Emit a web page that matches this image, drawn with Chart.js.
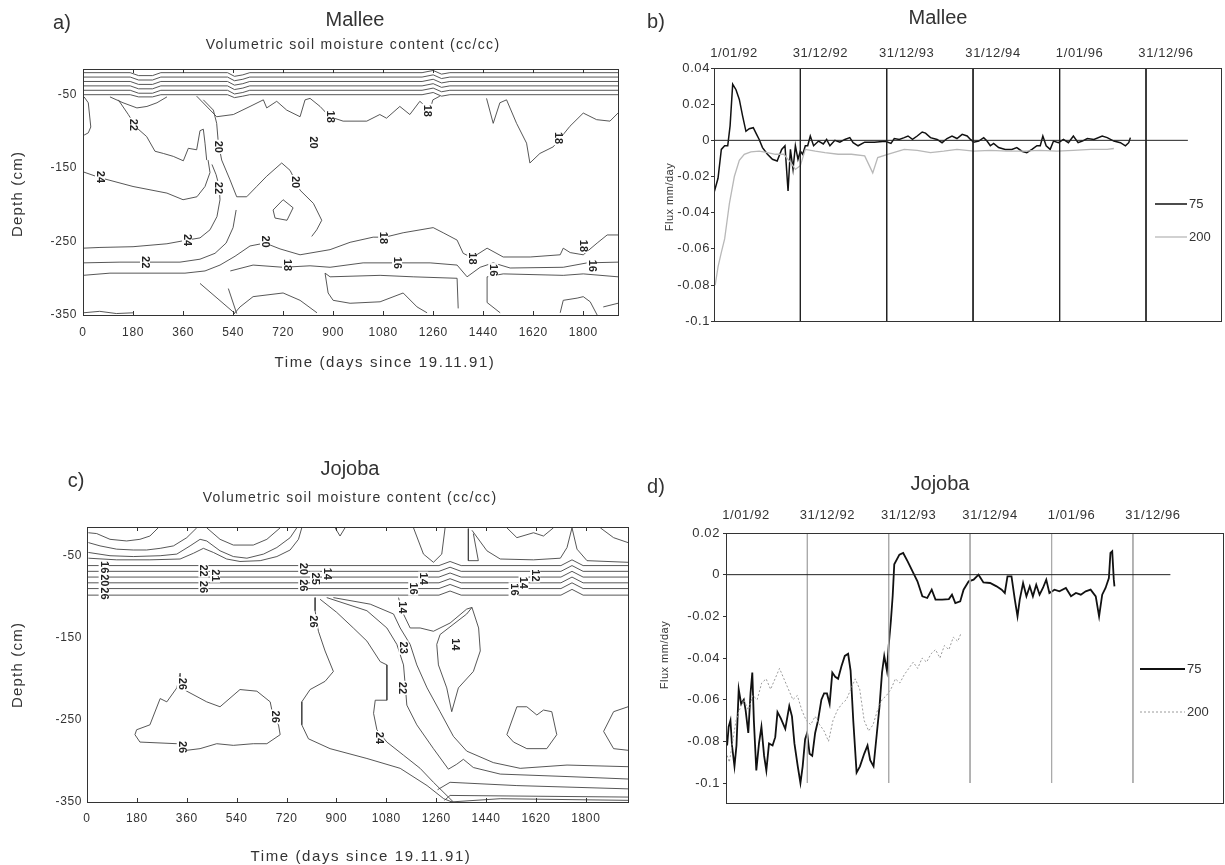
<!DOCTYPE html>
<html>
<head>
<meta charset="utf-8">
<script src="https://cdn.jsdelivr.net/npm/chart.js@4.4.1/dist/chart.umd.min.js"></script>
<style>
  html, body { margin: 0; padding: 0; background: #fff; }
  body { width: 1225px; height: 865px; position: relative; overflow: hidden; }
  canvas { position: absolute; }
</style>
</head>
<body>
<canvas id="mallee-contour" width="640" height="400" style="left:0;top:0"></canvas>
<canvas id="mallee-flux" width="585" height="330" style="left:640px;top:0"></canvas>
<canvas id="jojoba-contour" width="645" height="415" style="left:0;top:450px"></canvas>
<canvas id="jojoba-flux" width="585" height="415" style="left:640px;top:450px"></canvas>
<script>
/* global Chart */

// ---- flux charts (b, d): days since 1/01/92, flux mm/day ----
const dateTickDays = [0, 365, 730, 1095, 1461, 1826];
const dateTickLabels = ['1/01/92', '31/12/92', '31/12/93', '31/12/94', '1/01/96', '31/12/96'];
const yearMarkDays = [365, 730, 1095, 1461, 1826];
const fluxTicksMallee = [0.04, 0.02, 0, -0.02, -0.04, -0.06, -0.08, -0.1];
const fluxTicksJojoba = [0.02, 0, -0.02, -0.04, -0.06, -0.08, -0.1];

const malleeFlux75 = [[0,-0.029],[17,-0.021],[31,-0.005],[45,-0.003],[58,-0.003],[68,0.008],[79,0.031],[93,0.028],[107,0.0226],[121,0.0134],[135,0.005],[149,0.0064],[166,0.007],[180,0.0033],[191,0.0005],[205,-0.004],[226,-0.0077],[247,-0.0105],[267,-0.0114],[286,-0.005],[300,-0.003],[313,-0.028],[323,-0.005],[334,-0.016],[344,-0.003],[355,-0.0105],[365,-0.006],[375,-0.0077],[386,-0.003],[396,-0.003],[407,0.0024],[421,-0.003],[442,-0.0004],[462,-0.002],[476,0.0005],[490,-0.003],[511,0],[532,-0.001],[553,0.0005],[574,0.0015],[588,-0.0013],[609,-0.003],[637,-0.001],[678,-0.001],[724,-0.0005],[748,-0.0017],[762,0.001],[783,0.0005],[804,0.0015],[820,0.0024],[839,0.0005],[859,0.0024],[880,0.0046],[894,0.004],[915,0.0015],[943,0.0005],[964,-0.0013],[985,0.001],[1006,0.0024],[1027,0.001],[1049,0.0033],[1070,0.0024],[1084,0.0005],[1098,-0.001],[1119,-0.0004],[1140,0.0015],[1154,-0.0004],[1168,-0.003],[1182,-0.0017],[1203,-0.004],[1231,-0.005],[1259,-0.005],[1280,-0.004],[1301,-0.006],[1322,-0.0068],[1344,-0.005],[1365,-0.003],[1379,-0.003],[1390,0.0024],[1404,-0.003],[1421,-0.005],[1435,-0.0004],[1456,-0.0013],[1477,0.0005],[1498,-0.0013],[1519,0.0024],[1539,-0.0013],[1557,-0.0004],[1578,0.001],[1606,0.0005],[1641,0.0024],[1662,0.0015],[1690,-0.0004],[1718,-0.0013],[1739,-0.003],[1753,-0.0013],[1760,0.0015]];
const malleeFlux200 = [[5,-0.08],[17,-0.07],[31,-0.062],[45,-0.0545],[65,-0.035],[86,-0.02],[107,-0.011],[128,-0.0077],[156,-0.0064],[191,-0.006],[226,-0.0068],[260,-0.0077],[295,-0.0077],[323,-0.012],[344,-0.016],[365,-0.014],[386,-0.005],[428,-0.006],[469,-0.0068],[525,-0.0077],[581,-0.0077],[637,-0.0086],[671,-0.018],[692,-0.0095],[734,-0.0077],[804,-0.005],[859,-0.0055],[915,-0.0068],[971,-0.006],[1027,-0.005],[1098,-0.006],[1168,-0.0055],[1238,-0.006],[1308,-0.006],[1379,-0.0055],[1449,-0.006],[1519,-0.0055],[1592,-0.005],[1662,-0.005],[1690,-0.0045]];
const malleeZeroEnd = 2003;

const jojobaFlux75 = [[5,-0.082],[12,-0.073],[20,-0.07],[27,-0.082],[38,-0.092],[47,-0.082],[57,-0.055],[68,-0.062],[80,-0.06],[88,-0.065],[100,-0.076],[110,-0.057],[118,-0.047],[125,-0.07],[136,-0.094],[148,-0.081],[159,-0.073],[171,-0.087],[181,-0.094],[193,-0.081],[209,-0.082],[221,-0.078],[231,-0.066],[246,-0.069],[266,-0.074],[284,-0.063],[296,-0.068],[307,-0.081],[322,-0.092],[334,-0.1],[344,-0.092],[355,-0.079],[364,-0.076],[375,-0.086],[387,-0.087],[400,-0.076],[413,-0.07],[428,-0.06],[440,-0.057],[453,-0.057],[465,-0.062],[477,-0.047],[490,-0.049],[503,-0.05],[518,-0.044],[533,-0.039],[548,-0.038],[559,-0.046],[571,-0.07],[586,-0.095],[601,-0.092],[620,-0.086],[635,-0.082],[647,-0.089],[662,-0.092],[677,-0.076],[689,-0.063],[700,-0.047],[710,-0.039],[722,-0.046],[730,-0.034],[740,-0.022],[748,-0.01],[755,0.005],[778,0.0096],[795,0.0104],[815,0.0064],[837,0.0016],[859,-0.0032],[881,-0.0104],[903,-0.0112],[923,-0.0072],[940,-0.012],[970,-0.012],[1000,-0.0117],[1014,-0.0096],[1029,-0.0136],[1051,-0.0128],[1066,-0.0072],[1089,-0.0032],[1111,-0.0024],[1133,0],[1155,-0.0037],[1185,-0.004],[1214,-0.0056],[1237,-0.0072],[1251,-0.0088],[1263,-0.0008],[1281,-0.0008],[1296,-0.012],[1308,-0.02],[1318,-0.012],[1333,-0.004],[1348,-0.0104],[1363,-0.0056],[1377,-0.0104],[1392,-0.0048],[1407,-0.0096],[1422,-0.0064],[1437,-0.0024],[1451,-0.0088],[1474,-0.0072],[1496,-0.008],[1525,-0.0064],[1548,-0.0104],[1570,-0.0088],[1592,-0.0096],[1614,-0.008],[1636,-0.0072],[1659,-0.0104],[1674,-0.02],[1688,-0.0096],[1703,-0.0064],[1718,-0.0016],[1725,0.0104],[1733,0.0112],[1740,-0.0024],[1743,-0.0056]];
const jojobaFlux200 = [[0,-0.085],[15,-0.09],[30,-0.08],[45,-0.07],[60,-0.065],[80,-0.06],[100,-0.065],[120,-0.058],[140,-0.06],[160,-0.052],[180,-0.05],[200,-0.055],[220,-0.05],[240,-0.045],[260,-0.05],[280,-0.055],[300,-0.06],[320,-0.058],[340,-0.065],[360,-0.07],[380,-0.072],[400,-0.068],[420,-0.072],[440,-0.075],[460,-0.08],[480,-0.07],[500,-0.065],[520,-0.062],[540,-0.06],[560,-0.055],[580,-0.05],[600,-0.055],[620,-0.07],[640,-0.075],[660,-0.072],[680,-0.065],[700,-0.06],[720,-0.058],[740,-0.055],[760,-0.05],[780,-0.052],[800,-0.048],[820,-0.045],[840,-0.042],[860,-0.045],[880,-0.04],[900,-0.042],[920,-0.038],[940,-0.036],[960,-0.04],[980,-0.034],[1000,-0.036],[1020,-0.03],[1040,-0.032],[1055,-0.028]];
const jojobaZeroEnd = 1994;

// ---- contour charts (a, c): [day since 19.11.91, depth cm] ----
const dayTicks = [0, 180, 360, 540, 720, 900, 1080, 1260, 1440, 1620, 1800];
const depthTicks = [-50, -150, -250, -350];

const malleeBand1 = [[0,-20],[170,-20],[200,-24],[250,-24],[280,-20],[520,-20],[545,-25],[575,-23],[600,-20],[1220,-20],[1260,-17],[1290,-22],[1320,-20],[1925,-20]];
const malleeBand2 = [[0,-26],[170,-26],[200,-30],[250,-30],[280,-26],[520,-26],[545,-31],[575,-29],[600,-26],[1220,-26],[1260,-23],[1290,-28],[1320,-26],[1925,-26]];
const malleeBand3 = [[0,-32],[170,-32],[200,-36],[250,-36],[280,-32],[520,-32],[545,-37],[575,-35],[600,-32],[1220,-32],[1260,-29],[1290,-34],[1320,-32],[1925,-32]];
const malleeBand4 = [[0,-38],[170,-38],[200,-42],[250,-42],[280,-38],[520,-38],[545,-43],[575,-41],[600,-38],[1220,-38],[1260,-35],[1290,-40],[1320,-38],[1925,-38]];
const malleeBand5 = [[0,-44],[170,-44],[200,-48],[250,-48],[280,-44],[520,-44],[545,-49],[575,-47],[600,-44],[1220,-44],[1260,-41],[1290,-46],[1320,-44],[1925,-44]];
const malleeBand6 = [[0,-50],[170,-50],[200,-53],[250,-53],[280,-50],[520,-50],[545,-54],[575,-52],[600,-50],[1220,-50],[1260,-47],[1290,-52],[1320,-50],[1925,-50]];
const malleeLoop = [[4,-53],[19,-61],[28,-94],[19,-102],[4,-105]];
const malleeU = [[97,-53],[144,-61],[194,-68],[230,-66],[266,-61],[302,-53]];
const mallee22 = [[127,-57],[163,-77],[193,-95],[229,-107],[259,-127],[289,-130],[325,-134],[361,-140],[379,-123],[409,-125],[421,-99],[433,-97],[439,-116],[445,-139]];
const mallee24 = [[0,-155],[61,-163],[180,-175],[302,-184],[360,-193],[410,-189],[439,-175],[457,-156],[450,-139]];
const mallee20 = [[433,-57],[469,-71],[481,-89],[487,-116],[499,-139],[529,-166],[553,-189],[589,-189],[625,-175],[661,-161],[715,-143],[745,-153],[781,-180],[829,-198],[859,-221],[841,-234],[823,-243]];
const mallee18 = [[409,-52],[481,-80],[541,-77],[601,-66],[649,-57],[661,-68],[697,-59],[733,-71],[781,-80],[799,-57],[817,-55],[853,-66],[888,-80],[936,-86],[1021,-86],[1068,-77],[1092,-82],[1140,-66],[1176,-77],[1212,-59],[1248,-71],[1259,-57],[1284,-52]];
const mallee18b = [[1452,-55],[1476,-89],[1500,-61],[1524,-57],[1560,-89],[1596,-116],[1608,-143],[1644,-130],[1692,-121],[1752,-93],[1800,-75],[1848,-84],[1896,-86],[1925,-75]];
const mallee24low = [[0,-259],[61,-258],[180,-257],[302,-253],[374,-248],[421,-245],[457,-234],[482,-216],[493,-193],[490,-175],[479,-159],[464,-145]];
const mallee22low = [[0,-279],[133,-278],[241,-278],[349,-278],[421,-274],[475,-266],[515,-252],[540,-231],[551,-207]];
const mallee18low = [[0,-296],[97,-293],[241,-293],[367,-293],[439,-290],[493,-282],[547,-270],[601,-256],[655,-252],[709,-260],[781,-268],[889,-261],[961,-251],[1044,-244],[1087,-244],[1152,-238],[1260,-231],[1296,-238],[1346,-248],[1368,-266],[1400,-272],[1454,-259],[1512,-271],[1609,-271],[1717,-268],[1728,-259],[1753,-265],[1800,-268],[1850,-252],[1886,-241],[1925,-241]];
const mallee16 = [[530,-290],[612,-282],[720,-285],[817,-283],[889,-285],[1008,-279],[1130,-279],[1249,-279],[1346,-282],[1382,-298],[1429,-285],[1476,-279],[1537,-286],[1728,-285],[1814,-279],[1925,-278]];
const malleeLens = [[1350,-341],[1346,-300],[1188,-298],[1069,-296],[889,-298],[871,-293],[882,-320],[900,-330],[961,-334],[1069,-332],[1152,-320],[1202,-339],[1238,-347]];
const malleeDiamond = [[684,-207],[720,-193],[756,-204],[734,-221],[691,-218],[684,-207]];
const malleeHump = [[540,-350],[565,-339],[612,-325],[720,-320],[781,-330],[842,-347]];
const malleeDiag1 = [[421,-307],[547,-348]];
const malleeDiag2 = [[523,-314],[553,-348]];
const malleeBase = [[0,-347],[60,-345],[120,-348],[180,-347]];
const malleeRight1 = [[1501,-347],[1454,-333],[1454,-298],[1512,-294],[1728,-296],[1800,-294],[1925,-298]];
const malleeRight2 = [[1717,-347],[1728,-330],[1778,-327],[1800,-325],[1825,-332],[1850,-350]];
const malleeRight3 = [[1872,-339],[1925,-334]];
const malleeLabels = [[180,-91,'22'],[486,-121,'20'],[486,-177,'22'],[61,-162,'24'],[374,-248,'24'],[223,-278,'22'],[655,-250,'20'],[734,-282,'18'],[763,-169,'20'],[828,-115,'20'],[889,-80,'18'],[1238,-72,'18'],[1080,-245,'18'],[1130,-279,'16'],[1400,-273,'18'],[1476,-289,'16'],[1710,-109,'18'],[1800,-256,'18'],[1830,-283,'16']];

const jojobaBand1 = [[0,-62],[1270,-62],[1310,-57],[1350,-62],[1710,-62],[1750,-55],[1790,-62],[1952,-62]];
const jojobaBand2 = [[0,-69],[1270,-69],[1310,-64],[1350,-69],[1710,-69],[1750,-62],[1790,-69],[1952,-69]];
const jojobaBand3 = [[0,-76],[1270,-76],[1310,-71],[1350,-76],[1710,-76],[1750,-69],[1790,-76],[1952,-76]];
const jojobaBand4 = [[0,-83],[1270,-83],[1310,-78],[1350,-83],[1710,-83],[1750,-76],[1790,-83],[1952,-83]];
const jojobaBand5 = [[0,-90],[1270,-90],[1310,-85],[1350,-90],[1710,-90],[1750,-83],[1790,-90],[1952,-90]];
const jojobaBand6 = [[0,-98],[1270,-98],[1310,-93],[1350,-98],[1710,-98],[1750,-91],[1790,-98],[1952,-98]];
const jojobaU1 = [[5,-22],[35,-23],[83,-30],[143,-32],[191,-30],[227,-26],[257,-16]];
const jojobaU2 = [[5,-34],[47,-38],[107,-42],[167,-43],[215,-43],[264,-41],[312,-38],[360,-28],[396,-16]];
const jojobaU3 = [[5,-46],[83,-50],[167,-51],[264,-50],[324,-48],[372,-38],[408,-30],[432,-32],[480,-44],[528,-51],[577,-53],[637,-48],[685,-40],[733,-28],[757,-16]];
const jojobaU4 = [[5,-53],[107,-55],[227,-55],[336,-54],[384,-47],[420,-41],[456,-46],[504,-54],[552,-57],[625,-56],[685,-51],[733,-43],[763,-30],[775,-16]];
const jojobaTopU = [[432,-16],[480,-30],[528,-37],[600,-37],[649,-30],[697,-16]];
const jojobaV = [[895,-16],[913,-26],[931,-16]];
const jojobaSpike = [[1178,-16],[1214,-48],[1250,-58],[1280,-48],[1292,-16]];
const jojobaNarrow = [[1376,-17],[1376,-56],[1412,-56],[1394,-23]];
const jojobaRightLine = [[1389,-19],[1443,-44],[1491,-54],[1611,-55],[1708,-53],[1732,-40],[1750,-16],[1768,-42],[1804,-56],[1952,-58]];
const jojobaBumps = [[1515,-16],[1551,-28],[1611,-22],[1647,-26],[1683,-16]];
const jojobaTopRight = [[1852,-16],[1900,-28],[1952,-34]];
const jojobaBig = [[823,-101],[823,-117],[835,-142],[859,-166],[889,-191],[859,-203],[805,-213],[775,-228],[775,-256],[799,-273],[877,-285],[1010,-297],[1130,-309],[1227,-330],[1287,-346],[1317,-350]];
const jojoba24 = [[841,-103],[901,-119],[961,-138],[1010,-154],[1058,-179],[1082,-183],[1082,-226],[1040,-226],[1034,-242],[1046,-262],[1082,-277],[1142,-293],[1202,-309],[1250,-326],[1304,-344],[1322,-350]];
const jojoba22 = [[865,-101],[1010,-117],[1082,-138],[1118,-158],[1142,-183],[1148,-207],[1154,-232],[1190,-256],[1250,-285],[1304,-310],[1334,-304],[1358,-298],[1394,-308],[1491,-316],[1732,-319],[1952,-322]];
const jojoba23 = [[889,-101],[1022,-109],[1106,-121],[1130,-138],[1166,-158],[1190,-183],[1227,-211],[1274,-240],[1322,-270],[1370,-288],[1466,-302],[1563,-309],[1732,-305],[1952,-307]];
const jojobaB1 = [[1265,-335],[1310,-326],[1551,-330],[1952,-334]];
const jojobaB2 = [[1290,-348],[1310,-342],[1952,-344]];
const jojobaB3 = [[1310,-350],[1491,-346],[1952,-348]];
const jojobaOuter14 = [[1124,-101],[1136,-117],[1166,-138],[1202,-138],[1250,-142],[1310,-132],[1370,-115],[1389,-113]];
const jojoba14 = [[1274,-146],[1370,-121],[1389,-113],[1413,-138],[1419,-166],[1394,-191],[1340,-211],[1316,-240],[1298,-211],[1268,-183],[1262,-158],[1274,-146]];
const jojobaLeftShape = [[336,-193],[324,-211],[288,-228],[264,-224],[227,-256],[179,-262],[173,-268],[191,-277],[324,-279],[360,-287],[408,-285],[468,-279],[528,-281],[600,-279],[649,-279],[697,-268],[691,-256],[673,-248],[661,-228],[613,-215],[552,-213],[480,-234],[432,-228],[360,-215],[342,-211],[336,-193]];
const jojobaSmall = [[1515,-268],[1551,-234],[1587,-234],[1623,-244],[1647,-238],[1677,-240],[1695,-268],[1659,-285],[1587,-285],[1539,-277],[1515,-268]];
const jojobaArc = [[1952,-234],[1900,-240],[1864,-264],[1900,-285],[1952,-287]];
const jojobaLabels = [[60,-64,'16'],[60,-80,'20'],[60,-96,'26'],[420,-68,'22'],[420,-88,'26'],[462,-74,'21'],[780,-66,'20'],[780,-86,'26'],[823,-78,'25'],[866,-72,'14'],[1177,-90,'16'],[1213,-78,'14'],[1136,-113,'14'],[817,-130,'26'],[1142,-162,'23'],[1136,-211,'22'],[1052,-272,'24'],[1539,-91,'16'],[1575,-83,'14'],[1617,-74,'12'],[1328,-158,'14'],[342,-206,'26'],[342,-283,'26'],[679,-246,'26']];

const FONT = "'Liberation Sans', Arial, sans-serif";
const INK = '#333';

const line = (pts, color, width, dash) => ({
  data: pts.map(([x, y]) => ({ x, y })),
  showLine: true,
  borderColor: color,
  borderWidth: width,
  borderDash: dash || [],
  pointRadius: 0,
  fill: false,
  tension: 0
});

function drawText(ctx, t) {
  ctx.save();
  ctx.font = `${t.size}px ${FONT}`;
  ctx.fillStyle = INK;
  ctx.letterSpacing = (t.spacing || 0) + 'px';
  ctx.textAlign = 'center';
  ctx.textBaseline = 'middle';
  ctx.translate(t.x, t.y);
  if (t.rotate) ctx.rotate(t.rotate * Math.PI / 180);
  ctx.fillText(t.text, 0, 0);
  ctx.restore();
}

// frame, inner ticks, contour labels, legend and titles
const panelDecor = {
  id: 'panelDecor',
  beforeDraw(chart, args, opts) {
    chart.ctx.letterSpacing = (opts.tickSpacing || 0) + 'px';
  },
  afterDraw(chart, args, opts) {
    const { ctx, chartArea: a, scales } = chart;
    ctx.save();
    ctx.letterSpacing = '0px';
    ctx.strokeStyle = INK;
    ctx.lineWidth = 1;
    ctx.strokeRect(Math.round(a.left) + 0.5, Math.round(a.top) + 0.5,
      Math.round(a.right - a.left), Math.round(a.bottom - a.top));

    if (opts.innerTicks) {
      ctx.beginPath();
      scales.x.ticks.forEach(t => {
        const x = Math.round(scales.x.getPixelForValue(t.value)) + 0.5;
        ctx.moveTo(x, a.bottom); ctx.lineTo(x, a.bottom - 4);
        ctx.moveTo(x, a.top); ctx.lineTo(x, a.top + 4);
      });
      ctx.stroke();
    }

    (opts.labels || []).forEach(([d, z, txt]) => {
      const x = scales.x.getPixelForValue(d);
      const y = scales.y.getPixelForValue(z);
      ctx.save();
      ctx.translate(x, y);
      ctx.rotate(Math.PI / 2);
      ctx.font = `bold 11px ${FONT}`;
      const w = ctx.measureText(txt).width;
      ctx.fillStyle = '#fff';
      ctx.fillRect(-w / 2 - 1, -5, w + 2, 10);
      ctx.fillStyle = '#222';
      ctx.textAlign = 'center';
      ctx.textBaseline = 'middle';
      ctx.fillText(txt, 0, 0);
      ctx.restore();
    });

    if (opts.legend) {
      const lg = opts.legend;
      lg.items.forEach(it => {
        const ds = chart.data.datasets[it.dataset];
        ctx.save();
        ctx.strokeStyle = ds.borderColor;
        ctx.lineWidth = ds.borderWidth;
        ctx.setLineDash(ds.borderDash || []);
        ctx.beginPath();
        ctx.moveTo(lg.x1, it.y); ctx.lineTo(lg.x2, it.y);
        ctx.stroke();
        ctx.restore();
        ctx.font = `13px ${FONT}`;
        ctx.fillStyle = INK;
        ctx.textAlign = 'left';
        ctx.textBaseline = 'middle';
        ctx.fillText(it.label, lg.x2 + 2, it.y);
      });
    }
    (opts.texts || []).forEach(t => drawText(ctx, t));
    ctx.restore();
  }
};

function contourChart(id, contours, labels, xMax, geo, texts) {
  return new Chart(id, {
    type: 'scatter',
    data: { datasets: contours.map(c => line(c, '#444', 0.9)) },
    options: {
      responsive: false,
      animation: false,
      layout: { padding: { top: geo.top, right: geo.right, bottom: geo.bottom, left: 0 } },
      scales: {
        x: {
          type: 'linear', min: 0, max: xMax,
          afterBuildTicks: s => { s.ticks = dayTicks.map(v => ({ value: v })); },
          afterFit: s => { s.height = 30; },
          grid: { display: false, drawTicks: false },
          border: { display: false },
          ticks: { autoSkip: false, maxRotation: 0, padding: geo.xPad, color: INK,
            font: { family: FONT, size: 12 }, callback: v => String(v) }
        },
        y: {
          type: 'linear', min: -350, max: -15,
          afterBuildTicks: s => { s.ticks = depthTicks.map(v => ({ value: v })); },
          afterFit: s => { s.width = geo.yWidth; },
          grid: { display: false, drawTicks: false },
          border: { display: false },
          ticks: { padding: geo.yPad, color: INK, font: { family: FONT, size: 12 },
            callback: v => String(v) }
        }
      },
      plugins: {
        legend: { display: false },
        tooltip: { enabled: false },
        panelDecor: { tickSpacing: 0.6, innerTicks: true, labels, texts }
      }
    },
    plugins: [panelDecor]
  });
}

function fluxChart(id, s75, s200, zeroEnd, yearTop, yMin, yMax, yTicks, xMax, geo, yearColor, texts, legend) {
  const datasets = [
    line([[0, 0], [zeroEnd, 0]], '#222', 1),
    ...yearMarkDays.map(d => line([[d, yearTop], [d, -0.1]], yearColor, 1)),
    line(s200, geo.grayColor, geo.grayWidth, geo.grayDash),
    line(s75, '#111', geo.blackWidth)
  ];
  const n = datasets.length;
  legend.items = [
    { dataset: n - 1, label: '75', y: legend.y75 },
    { dataset: n - 2, label: '200', y: legend.y200 }
  ];
  return new Chart(id, {
    type: 'scatter',
    data: { datasets },
    options: {
      responsive: false,
      animation: false,
      layout: { padding: { top: 0, right: geo.right, bottom: geo.bottom, left: 0 } },
      scales: {
        x: {
          type: 'linear', position: 'top', min: 0, max: xMax,
          afterBuildTicks: s => { s.ticks = dateTickDays.map(v => ({ value: v })); },
          afterFit: s => { s.height = geo.topAxis; },
          grid: { display: false, drawTicks: false },
          border: { display: false },
          ticks: { autoSkip: false, maxRotation: 0, padding: geo.xPad, labelOffset: 20,
            color: INK, font: { family: FONT, size: 13 },
            callback: (v, i) => dateTickLabels[i] }
        },
        y: {
          type: 'linear', min: yMin, max: yMax,
          afterBuildTicks: s => { s.ticks = yTicks.map(v => ({ value: v })); },
          afterFit: s => { s.width = geo.yWidth; },
          grid: { display: true, drawOnChartArea: false, drawTicks: true, tickLength: 3, color: INK },
          border: { display: false },
          ticks: { padding: geo.yPad, color: INK, font: { family: FONT, size: 13 },
            callback: v => String(+v.toFixed(2)) }
        }
      },
      plugins: {
        legend: { display: false },
        tooltip: { enabled: false },
        panelDecor: { tickSpacing: 0.6, texts, legend }
      }
    },
    plugins: [panelDecor]
  });
}

contourChart('mallee-contour',
  [malleeBand1, malleeBand2, malleeBand3, malleeBand4, malleeBand5, malleeBand6, malleeLoop, malleeU,
   mallee22, mallee24, mallee20, mallee18, mallee18b, mallee24low, mallee22low, mallee18low, mallee16,
   malleeLens, malleeDiamond, malleeHump, malleeDiag1, malleeDiag2, malleeBase, malleeRight1, malleeRight2, malleeRight3],
  malleeLabels, 1925,
  { top: 69, right: 22, bottom: 55, yWidth: 83, xPad: 10, yPad: 6 },
  [
    { text: 'a)', x: 62, y: 23, size: 20 },
    { text: 'Mallee', x: 355, y: 20, size: 20 },
    { text: 'Volumetric soil moisture content (cc/cc)', x: 353, y: 45, size: 14, spacing: 1.3 },
    { text: 'Depth (cm)', x: 18, y: 194, size: 15, spacing: 1.2, rotate: -90 },
    { text: 'Time (days since 19.11.91)', x: 385, y: 363, size: 15, spacing: 1.6 }
  ]);

contourChart('jojoba-contour',
  [jojobaBand1, jojobaBand2, jojobaBand3, jojobaBand4, jojobaBand5, jojobaBand6, jojobaU1, jojobaU2, jojobaU3,
   jojobaU4, jojobaTopU, jojobaV, jojobaSpike, jojobaNarrow, jojobaRightLine, jojobaBumps, jojobaTopRight,
   jojobaBig, jojoba24, jojoba22, jojoba23, jojobaB1, jojobaB2, jojobaB3, jojobaOuter14, jojoba14,
   jojobaLeftShape, jojobaSmall, jojobaArc],
  jojobaLabels, 1952,
  { top: 77, right: 17, bottom: 33, yWidth: 87, xPad: 9, yPad: 5 },
  [
    { text: 'c)', x: 76, y: 31, size: 20 },
    { text: 'Jojoba', x: 350, y: 19, size: 20 },
    { text: 'Volumetric soil moisture content (cc/cc)', x: 350, y: 48, size: 14, spacing: 1.3 },
    { text: 'Depth (cm)', x: 18, y: 215, size: 15, spacing: 1.2, rotate: -90 },
    { text: 'Time (days since 19.11.91)', x: 361, y: 407, size: 15, spacing: 1.6 }
  ]);

fluxChart('mallee-flux', malleeFlux75, malleeFlux200, malleeZeroEnd, 0.04, -0.1, 0.04, fluxTicksMallee, 2143,
  { right: 4, bottom: 4, topAxis: 68, yWidth: 74, xPad: 7, yPad: 1,
    grayColor: '#b8b8b8', grayWidth: 1.3, grayDash: [], blackWidth: 1.5 },
  '#222',
  [
    { text: 'b)', x: 16, y: 22, size: 20 },
    { text: 'Mallee', x: 298, y: 18, size: 20 },
    { text: 'Flux mm/day', x: 30, y: 197, size: 11, spacing: 0.5, rotate: -90 }
  ],
  { x1: 515, x2: 547, y75: 204, y200: 237 });

fluxChart('jojoba-flux', jojobaFlux75, jojobaFlux200, jojobaZeroEnd, 0.02, -0.1096, 0.02, fluxTicksJojoba, 2230,
  { right: 2, bottom: 62, topAxis: 83, yWidth: 86, xPad: 10, yPad: 3,
    grayColor: '#9a9a9a', grayWidth: 1, grayDash: [2, 2], blackWidth: 1.8 },
  '#aaa',
  [
    { text: 'd)', x: 16, y: 37, size: 20 },
    { text: 'Jojoba', x: 300, y: 34, size: 20 },
    { text: 'Flux mm/day', x: 25, y: 205, size: 11, spacing: 0.5, rotate: -90 }
  ],
  { x1: 500, x2: 545, y75: 219, y200: 262 });
</script>
</body>
</html>
